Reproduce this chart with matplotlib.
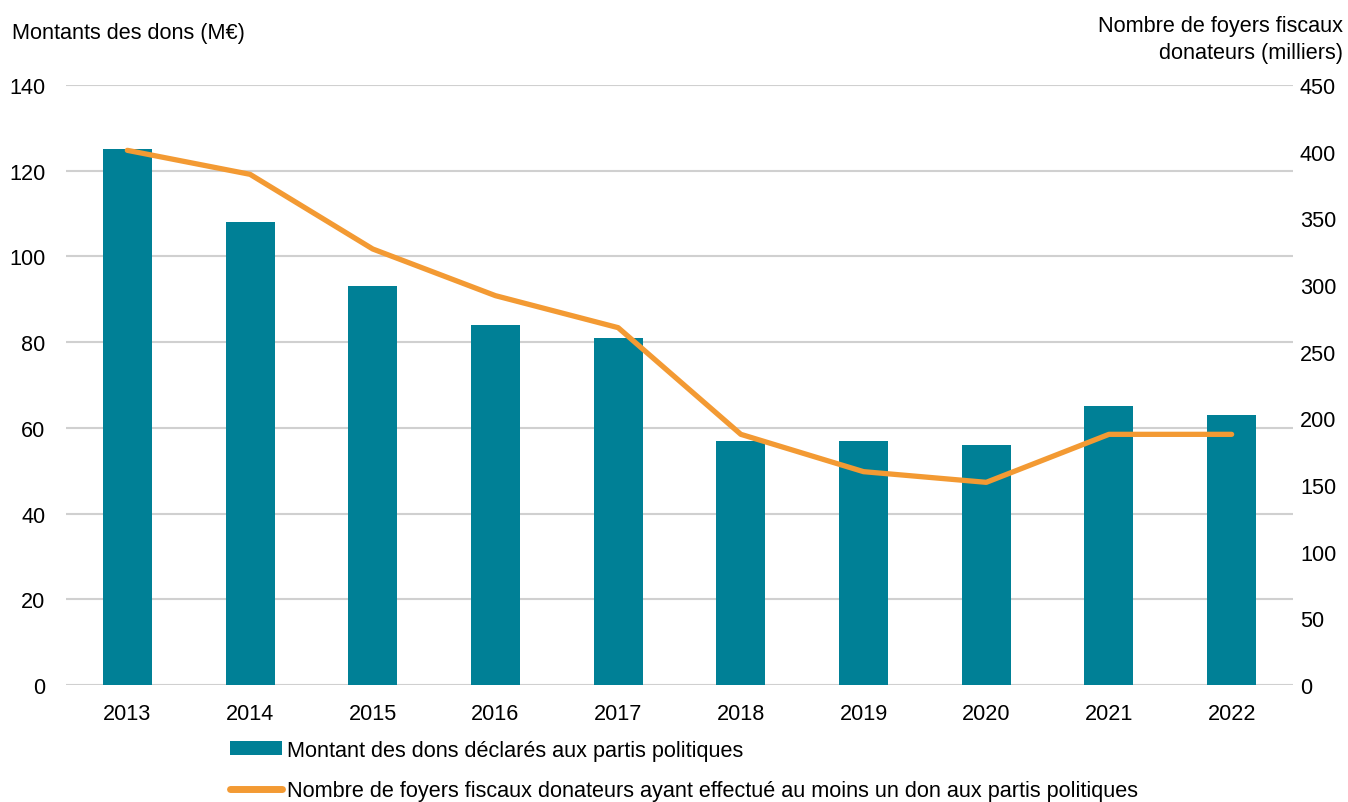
import matplotlib
matplotlib.use("Agg")
import matplotlib.pyplot as plt
from matplotlib.patches import Patch
from matplotlib.lines import Line2D

plt.rcParams['font.family'] = ['Liberation Sans', 'DejaVu Sans']

years = ["2013", "2014", "2015", "2016", "2017", "2018", "2019", "2020", "2021", "2022"]
montants = [125, 108, 93, 84, 81, 57, 57, 56, 65, 63]
foyers = [401, 383, 327, 292, 268, 188, 160, 152, 188, 188]
left_ticks = [0, 20, 40, 60, 80, 100, 120, 140]
right_ticks = [0, 50, 100, 150, 200, 250, 300, 350, 400, 450]

teal = "#008096"
orange = "#F39A33"
grid_c = "#D0D0D0"
fs = 15.6

fig = plt.figure(figsize=(13.48, 8.03), dpi=100)
ax = fig.add_axes([66/1348, 1-686/803, (1293-66)/1348, 600/803])
x = list(range(len(years)))
ax.bar(x, montants, width=0.4, color=teal, zorder=2)
ax.set_xlim(-0.5, len(years)-0.5)
ax.set_ylim(0, 140)
ax.set_yticks(left_ticks)
ax.set_xticks(x)
ax.set_xticklabels(years)
ax.grid(axis='y', color=grid_c, linewidth=1.5, zorder=0)
ax.set_axisbelow(True)
for s in ax.spines.values():
    s.set_visible(False)
ax.tick_params(axis='x', length=0, labelsize=fs, pad=13)
ax.tick_params(axis='y', length=0, labelsize=fs, pad=15)

ax2 = ax.twinx()
ax2.plot(x, foyers, color=orange, linewidth=3.8, solid_capstyle='round', solid_joinstyle='round', zorder=3)
ax2.set_ylim(0, 450)
ax2.set_yticks(right_ticks)
for s in ax2.spines.values():
    s.set_visible(False)
ax2.tick_params(length=0, labelsize=fs, pad=5)

fig.text(12/1348, 1-33/803, "Montants des dons (M€)", fontsize=fs, ha='left', va='center')
fig.text(1343/1348, 1-40/803, "Nombre de foyers fiscaux\ndonateurs (milliers)", fontsize=fs,
         ha='right', va='center', linespacing=1.35)

handles = [Patch(facecolor=teal, edgecolor='none'),
           Line2D([0], [0], color=orange, linewidth=5, solid_capstyle='round')]
labels = ["Montant des dons déclarés aux partis politiques",
          "Nombre de foyers fiscaux donateurs ayant effectué au moins un don aux partis politiques"]
fig.legend(handles, labels, loc='upper left', bbox_to_anchor=(230/1348, 1-741/803),
           frameon=False, fontsize=fs, handlelength=2.4, handleheight=0.6,
           handletextpad=0.25, labelspacing=0.9, borderaxespad=0, borderpad=0)

fig.savefig("out.png", dpi=100)
